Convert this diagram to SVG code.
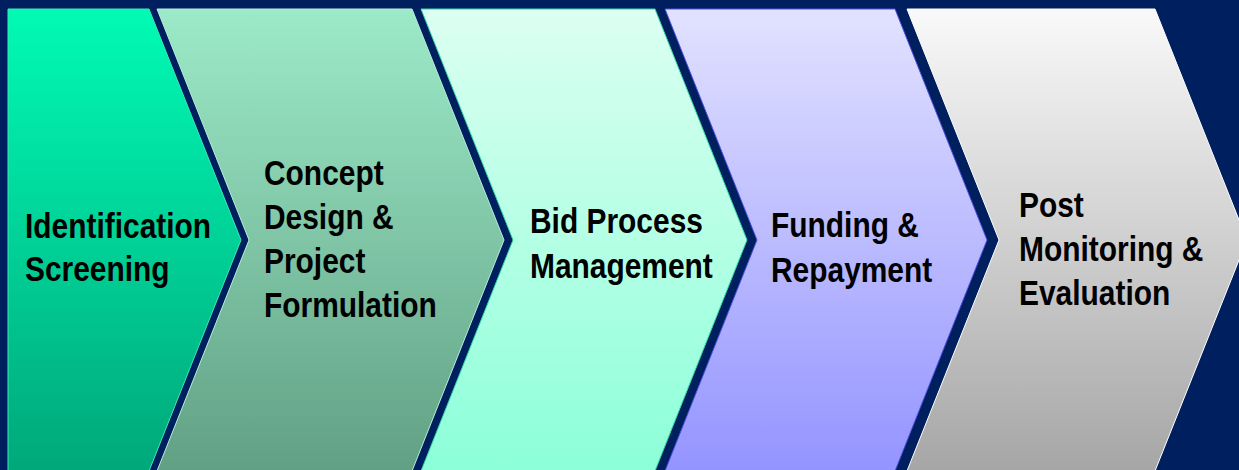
<svg xmlns="http://www.w3.org/2000/svg" width="1239" height="470" viewBox="0 0 1239 470">
<defs>
<linearGradient id="g1" x1="0" y1="0" x2="0" y2="1"><stop offset="0" stop-color="#00FBB5"/><stop offset="1" stop-color="#00A87A"/></linearGradient>
<linearGradient id="g2" x1="0" y1="0" x2="0" y2="1"><stop offset="0" stop-color="#9CEAC8"/><stop offset="1" stop-color="#62A084"/></linearGradient>
<linearGradient id="g3" x1="0" y1="0" x2="0" y2="1"><stop offset="0" stop-color="#DCFFF2"/><stop offset="1" stop-color="#8CFFD8"/></linearGradient>
<linearGradient id="g4" x1="0" y1="0" x2="0" y2="1"><stop offset="0" stop-color="#E2E2FF"/><stop offset="1" stop-color="#9494FF"/></linearGradient>
<linearGradient id="g5" x1="0" y1="0" x2="0" y2="1"><stop offset="0" stop-color="#F9F9F9"/><stop offset="1" stop-color="#A6A6A6"/></linearGradient>
</defs>
<style>
.lbl{font-family:"Liberation Sans",Arial,sans-serif;font-weight:bold;font-size:35px;fill:#000}
.sh{stroke-width:1}
</style>
<rect width="1239" height="470" fill="#001F5E"/>
<g id="connectors"></g>
<g id="step1">
<polygon class="sh" points="8,9 149,9 241,240 149,471 8,471" fill="url(#g1)" stroke="#3FE8B8"/>
<text class="lbl" transform="translate(25 238) scale(0.855 1)">Identification</text>
<text class="lbl" transform="translate(25 281) scale(0.855 1)">Screening</text>
</g>
<g id="step2">
<polygon class="sh" points="157,9 412,9 504,240 412,471 157,471 249,240" fill="url(#g2)" stroke="#B8EED8"/>
<text class="lbl" transform="translate(264 185) scale(0.855 1)">Concept</text>
<text class="lbl" transform="translate(264 229) scale(0.855 1)">Design &amp;</text>
<text class="lbl" transform="translate(264 273) scale(0.855 1)">Project</text>
<text class="lbl" transform="translate(264 317) scale(0.855 1)">Formulation</text>
</g>
<g id="step3">
<polygon class="sh" points="421,9 655,9 747,240 655,471 421,471 513,240" fill="url(#g3)" stroke="#30D8A8"/>
<text class="lbl" transform="translate(530 233) scale(0.855 1)">Bid Process</text>
<text class="lbl" transform="translate(530 278) scale(0.855 1)">Management</text>
</g>
<g id="step4">
<polygon class="sh" points="665,9 895,9 987,240 895,471 665,471 757,240" fill="url(#g4)" stroke="#5050E0"/>
<text class="lbl" transform="translate(771 237) scale(0.855 1)">Funding &amp;</text>
<text class="lbl" transform="translate(771 282) scale(0.855 1)">Repayment</text>
</g>
<g id="step5">
<polygon class="sh" points="907,9 1155,9 1247,240 1155,471 907,471 999,240" fill="url(#g5)" stroke="#FFFFFF"/>
<text class="lbl" transform="translate(1019 217) scale(0.855 1)">Post</text>
<text class="lbl" transform="translate(1019 261) scale(0.855 1)">Monitoring &amp;</text>
<text class="lbl" transform="translate(1019 305) scale(0.855 1)">Evaluation</text>
</g>
</svg>
